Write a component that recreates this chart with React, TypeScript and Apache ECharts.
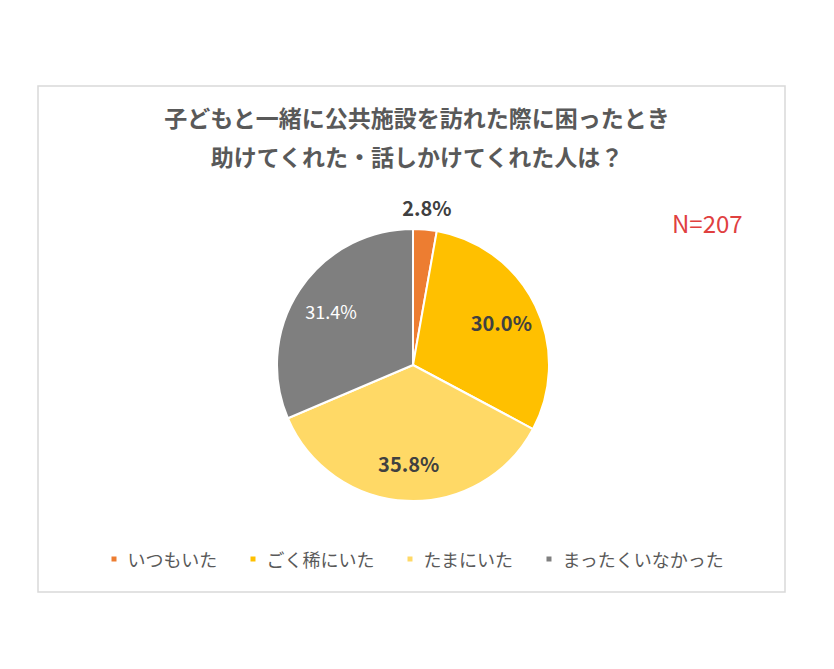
import React, { useEffect, useRef } from "react";
import * as echarts from "echarts";

const categories = ["いつもいた", "ごく稀にいた", "たまにいた", "まったくいなかった"];
const values = [2.8, 30.0, 35.8, 31.4];
const colors = ["#ED7D31", "#FFC000", "#FFD966", "#7F7F7F"];
const titleText = "子どもと一緒に公共施設を訪れた際に困ったとき\n助けてくれた・話しかけてくれた人は？";
const noteText = "N=207";

const FONT = "'Noto Sans CJK JP', 'Noto Sans', sans-serif";

export default function App() {
  const ref = useRef<HTMLDivElement>(null);
  useEffect(() => {
    if (!ref.current) return;
    const chart = echarts.init(ref.current, undefined, { renderer: "svg" });
    const R = 136;
    const cx = 413;
    const cy = 365;
    const fmt = (p: any) => p.value.toFixed(1) + "%";
    const data = categories.map((name, i) => ({
      name,
      value: values[i],
      itemStyle: { color: colors[i] },
    }));
    const innerLabels = categories.map((name, i) => ({
      name,
      value: values[i],
      label: {
        show: i !== 0,
        color: i === 3 ? "#FFFFFF" : "#404040",
        fontWeight: i === 3 ? "normal" : "bold",
        fontSize: i === 3 ? 18 : 20,
      },
    }));
    const outerLabels = categories.map((name, i) => ({
      name,
      value: values[i],
      label: {
        show: i === 0,
        color: "#404040",
        fontWeight: "bold",
        fontSize: 20,
      },
    }));
    const transparentPie = (radius: number, d: any[]) => ({
      type: "pie",
      center: [cx, cy],
      radius: [0, radius],
      startAngle: 90,
      clockwise: true,
      data: d,
      itemStyle: { color: "rgba(0,0,0,0)", borderWidth: 0 },
      label: { position: "inside", fontFamily: FONT, formatter: fmt },
      labelLine: { show: false },
      emphasis: { disabled: true },
      silent: true,
      z: 3,
    });
    chart.setOption({
      animation: false,
      backgroundColor: "#FFFFFF",
      textStyle: { fontFamily: FONT },
      title: {
        text: titleText,
        left: "center",
        top: 92,
        textStyle: {
          fontFamily: FONT,
          fontSize: 23,
          fontWeight: "bold",
          color: "#595959",
          lineHeight: 39,
        },
      },
      legend: {
        data: categories,
        bottom: 96,
        left: "center",
        icon: "rect",
        itemWidth: 7,
        itemHeight: 7,
        itemGap: 31,
        selectedMode: false,
        textStyle: {
          fontFamily: FONT,
          fontSize: 18,
          color: "#595959",
          padding: [0, 0, 0, 5],
        },
      },
      graphic: [
        {
          type: "rect",
          shape: { x: 38, y: 86, width: 747, height: 506 },
          style: { fill: "none", stroke: "#D9D9D9", lineWidth: 1.5 },
          silent: true,
        },
        {
          type: "text",
          left: 672,
          top: 210,
          style: { text: noteText, fill: "#E0403F", fontSize: 24, fontFamily: FONT },
        },
      ],
      series: [
        {
          type: "pie",
          center: [cx, cy],
          radius: [0, R],
          startAngle: 90,
          clockwise: true,
          data,
          label: { show: false },
          labelLine: { show: false },
          itemStyle: { borderColor: "#FFFFFF", borderWidth: 2 },
          emphasis: { disabled: true },
          silent: true,
        },
        transparentPie(R * 1.4, innerLabels),
        transparentPie(R * 2.28, outerLabels),
      ],
    });
    return () => chart.dispose();
  }, []);
  return (
    <div
      ref={ref}
      style={{ position: "fixed", left: 0, top: 0, width: 834, height: 669 }}
    />
  );
}
